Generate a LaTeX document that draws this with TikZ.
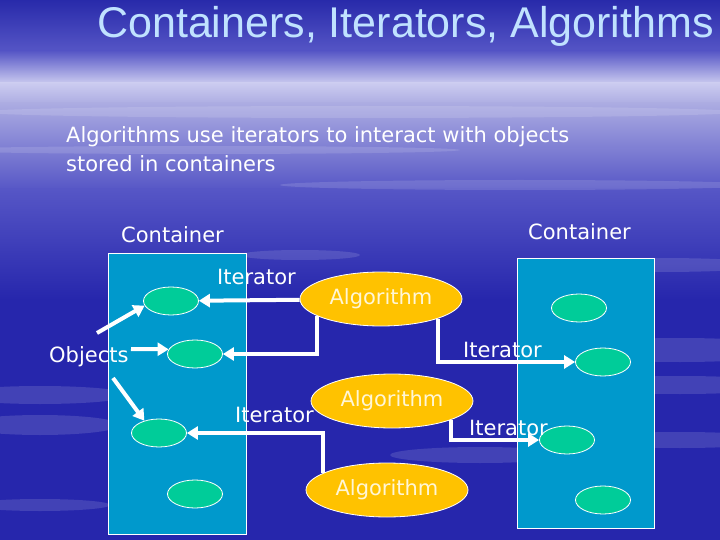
\documentclass[tikz,border=0pt]{standalone}
\usepackage{fontspec}
\setmainfont{DejaVu Sans}
\newfontfamily\titlefont{Liberation Sans}
\usetikzlibrary{arrows.meta,shapes.geometric}
\definecolor{bgdark}{RGB}{40,42,170}
\definecolor{bgmid}{RGB}{86,86,198}
\definecolor{bglight}{RGB}{204,204,240}
\definecolor{bghaze}{RGB}{172,172,226}
\definecolor{bglow}{RGB}{38,38,172}
\definecolor{boxblue}{RGB}{0,153,204}
\definecolor{objgreen}{RGB}{0,204,153}
\definecolor{algyellow}{RGB}{255,194,0}
\definecolor{algtext}{RGB}{255,246,214}
\definecolor{titleblue}{RGB}{192,226,255}

\begin{document}
\begin{tikzpicture}[x=1pt,y=-1pt,
  box/.style = {draw=white, line width=0.8pt, fill=boxblue, inner sep=0pt},
  obj/.style = {draw=white, line width=0.8pt, ellipse, fill=objgreen, minimum width=55pt, minimum height=28pt},
  alg/.style = {draw=white, line width=0.8pt, ellipse, fill=algyellow, text=algtext, minimum width=162pt, minimum height=54pt, font=\fontsize{21}{25}\selectfont},
  lbl/.style = {text=white, inner sep=0pt, anchor=base west, font=\fontsize{21}{25}\selectfont},
  streak/.style = {white, opacity=0.13},
  arr/.style = {draw=white, line width=4pt, -{Triangle[length=11pt,width=13pt]}}]
\clip (0,0) rectangle (720,540);
\shade[top color=bgdark, bottom color=bgmid] (0,0) rectangle (720,52);
\shade[top color=bgmid, bottom color=bglight] (0,51) rectangle (720,84);
\shade[top color=bglight, bottom color=bghaze] (0,83) rectangle (720,104);
\shade[top color=bghaze, bottom color=bgmid] (0,103) rectangle (720,190);
\shade[top color=bgmid, bottom color=bglow] (0,189) rectangle (720,300);
\fill[bglow] (0,299) rectangle (720,540);
\fill[streak] (360,112) ellipse (380 and 6);
\fill[streak] (200,150) ellipse (260 and 4);
\fill[streak] (520,185) ellipse (240 and 5);
\fill[streak] (660,265) ellipse (110 and 7);
\fill[streak] (680,350) ellipse (120 and 12);
\fill[streak] (680,385) ellipse (110 and 9);
\fill[streak] (680,440) ellipse (100 and 8);
\fill[streak] (40,395) ellipse (90 and 9);
\fill[streak] (40,425) ellipse (80 and 10);
\fill[streak] (40,505) ellipse (70 and 6);
\fill[streak] (480,455) ellipse (90 and 8);
\fill[streak] (300,255) ellipse (60 and 5);

\node[titleblue, inner sep=0pt, anchor=base west, font=\titlefont\fontsize{43}{50}\selectfont] (t) at (97,38) {Containers, Iterators, Algorithms};
\node[lbl] (s1) at (66,143) {Algorithms use iterators to interact with objects};
\node[lbl] (s2) at (66,172) {stored in containers};
\node[lbl] (k1) at (121,243) {Container};
\node[lbl] (k2) at (528,240) {Container};

\node[box] (c1) [minimum width=138pt, minimum height=281pt] at (177,393.5) {};
\node[box] (c2) [minimum width=137pt, minimum height=270pt] at (585.5,393) {};

\node[obj] (l1) at (171,301) {};
\node[obj] (l2) at (195,354) {};
\node[obj] (l3) at (159,433) {};
\node[obj] (l4) at (195,494) {};
\node[obj] (r1) at (579,308) {};
\node[obj] (r2) at (603,362) {};
\node[obj] (r3) at (567,440) {};
\node[obj] (r4) at (603,500) {};

\node[alg] (a1) at (381,299) {Algorithm};
\node[alg] (a2) at (392,401) {Algorithm};
\node[alg] (a3) at (387,490) {Algorithm};

\coordinate (o1) at (97,333);
\coordinate (o2) at (131,349);
\coordinate (o3) at (113,378);

\draw[arr] (a1) -- (l1);
\draw[arr] (a1.195) |- (l2);
\draw[arr] (a1.-19) |- (r2);
\draw[arr] (a3.165) |- (l3);
\draw[arr] (a2.-18) |- (r3);
\draw[arr] (o1) -- (l1.190);
\draw[arr] (o2) -- (l2.170);
\draw[arr] (o3) -- (l3.140);

\node[lbl] (i1) at (217,284) {Iterator};
\node[lbl] (i2) at (463,357) {Iterator};
\node[lbl] (i3) at (235,422) {Iterator};
\node[lbl] (i4) at (469,435) {Iterator};
\node[lbl] (ob) at (49,362) {Objects};
\end{tikzpicture}
\end{document}
